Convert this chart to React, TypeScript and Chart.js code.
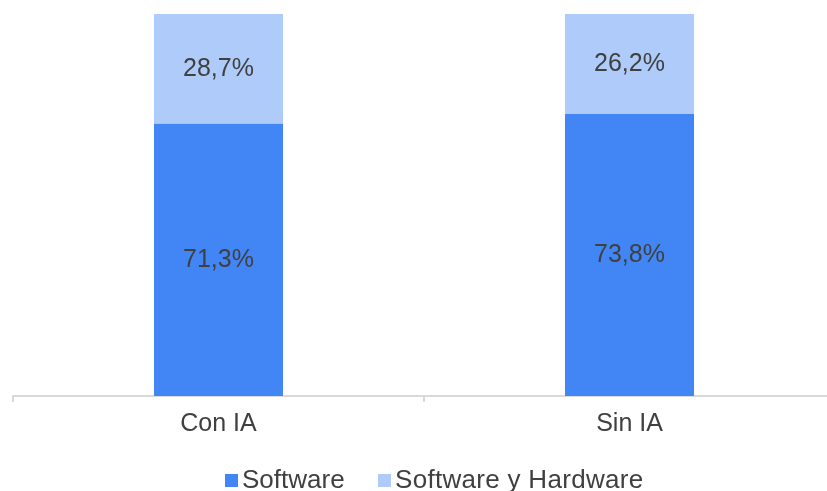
import React, { useEffect, useRef } from "react";
import { Chart, registerables } from "chart.js";

Chart.register(...registerables);

const categories = ["Con IA", "Sin IA"];
const softwareValues = [71.3, 73.8];
const softwareHardwareValues = [28.7, 26.2];
const seriesNames = ["Software", "Software y Hardware"];
const seriesColors = ["#4285F4", "#AECBFA"];
const textColor = "#404040";
const fontFamily = "'Liberation Sans', Arial, sans-serif";

const fmt = (v: number) => v.toFixed(1).replace(".", ",") + "%";

const barLabelPlugin = {
  id: "barLabels",
  afterDatasetsDraw(chart: any) {
    const ctx = chart.ctx;
    ctx.save();
    ctx.font = `25px ${fontFamily}`;
    ctx.fillStyle = textColor;
    ctx.textAlign = "center";
    ctx.textBaseline = "middle";
    chart.data.datasets.forEach((ds: any, di: number) => {
      const meta = chart.getDatasetMeta(di);
      meta.data.forEach((el: any, i: number) => {
        const v = ds.data[i];
        const y = (el.y + el.base) / 2;
        ctx.fillText(fmt(v), el.x, y);
      });
    });
    ctx.restore();
  },
};

export default function App() {
  const canvasRef = useRef<HTMLCanvasElement>(null);

  useEffect(() => {
    const canvas = canvasRef.current;
    if (!canvas) return;
    const chart = new Chart(canvas, {
      type: "bar",
      data: {
        labels: categories,
        datasets: [
          {
            label: seriesNames[0],
            data: softwareValues,
            backgroundColor: seriesColors[0],
            borderWidth: 0,
            barPercentage: 0.314,
            categoryPercentage: 1,
          },
          {
            label: seriesNames[1],
            data: softwareHardwareValues,
            backgroundColor: seriesColors[1],
            borderWidth: 0,
            barPercentage: 0.314,
            categoryPercentage: 1,
          },
        ],
      },
      options: {
        animation: false,
        responsive: false,
        maintainAspectRatio: false,
        devicePixelRatio: 1,
        layout: { padding: { left: 13, right: 15, top: 14, bottom: 0 } },
        plugins: {
          legend: { display: false },
          tooltip: { enabled: false },
        },
        scales: {
          x: {
            stacked: true,
            grid: {
              display: true,
              drawOnChartArea: false,
              drawTicks: true,
              tickLength: 6,
              color: "#d9d9d9",
              lineWidth: 2,
              offset: true,
            },
            border: { display: true, color: "#d9d9d9", width: 2 },
            ticks: {
              color: textColor,
              font: { family: fontFamily, size: 25 },
              padding: 7,
            },
            afterFit: (scale: any) => {
              scale.height = 95;
            },
          },
          y: {
            stacked: true,
            display: false,
            min: 0,
            max: 100,
          },
        },
      },
      plugins: [barLabelPlugin],
    });
    return () => chart.destroy();
  }, []);

  const legendItem = (i: number, left: number) => (
    <div
      key={i}
      style={{
        position: "absolute",
        left,
        top: 466,
        display: "flex",
        alignItems: "flex-start",
        whiteSpace: "nowrap",
      }}
    >
      <div
        style={{
          width: 13,
          height: 13,
          marginTop: 8,
          background: seriesColors[i],
          marginRight: 4,
        }}
      />
      <span
        style={{
          fontFamily,
          fontSize: 26,
          lineHeight: "26px",
          color: textColor,
          letterSpacing: i === 1 ? "0.3px" : "0px",
        }}
      >
        {seriesNames[i]}
      </span>
    </div>
  );

  return (
    <div
      style={{
        position: "fixed",
        left: 0,
        top: 0,
        width: 827,
        height: 491,
        overflow: "hidden",
        background: "#fff",
      }}
    >
      <canvas
        ref={canvasRef}
        width={850}
        height={491}
        style={{ position: "absolute", left: 0, top: 0, width: 850, height: 491 }}
      />
      {legendItem(0, 225)}
      {legendItem(1, 378)}
    </div>
  );
}
